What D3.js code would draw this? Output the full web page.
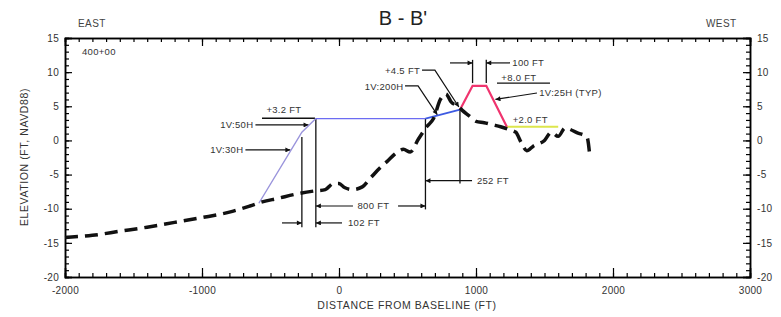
<!DOCTYPE html>
<html>
<head>
<meta charset="utf-8">
<script src="https://cdn.jsdelivr.net/npm/d3@7"></script>
<style>
  body { margin: 0; background: #fff; }
  svg { font-family: "Liberation Sans", Arial, sans-serif; }
  .tick text { fill: #333; font-size: 10px; letter-spacing: 0.3px; }
  .ann { fill: #333; font-size: 9.5px; letter-spacing: 0.3px; }
</style>
</head>
<body>
<svg id="chart" width="781" height="317"></svg>
<script>
// axis ticks
const xMajor = [-2000, -1000, 0, 1000, 2000, 3000];
const yMajor = [-20, -15, -10, -5, 0, 5, 10, 15];

// existing ground profile [distance, elevation]
const ground = [
  [-2000, -14.2], [-1800, -13.9], [-1600, -13.3], [-1400, -12.7], [-1200, -12.0],
  [-1000, -11.3], [-800, -10.5], [-650, -9.6], [-560, -9.0], [-450, -8.5],
  [-300, -7.8], [-180, -7.4], [-100, -7.2], [-40, -6.3], [0, -6.3], [40, -6.9],
  [100, -7.2], [170, -6.8], [230, -5.5], [300, -4.0], [350, -3.1], [420, -1.8],
  [470, -1.3], [520, -1.7], [580, 0.2], [640, 2.0], [690, 3.2], [740, 6.0],
  [780, 6.8], [820, 5.6], [870, 5.0], [900, 4.4], [950, 3.6], [1000, 2.8],
  [1060, 2.6], [1120, 2.3], [1180, 2.0], [1240, 1.6], [1290, 1.2], [1330, -0.3],
  [1370, -1.5], [1420, -0.8], [1500, 0.0], [1550, 1.2], [1600, 0.6], [1650, 1.8],
  [1740, 1.1], [1810, 0.5], [1830, -2.1]
];

// design profile pieces
const slopeBlue = [[-585, -9.2], [-271, 1.2], [-169, 3.2]];
const crestBlue = [[-169, 3.2], [631, 3.2]];
const rampBlue = [[631, 3.2], [883, 4.5]];
const dikeRed = [[883, 4.5], [975, 8.0], [1075, 8.0], [1225, 2.0]];
const benchYellow = [[1225, 2.0], [1600, 2.0]];

// annotation geometry in chart units
const extLines = [
  [[-271, 0.5], [-271, -12.7]], [[-169, 3.2], [-169, -12.7]],
  [[631, 3.2], [631, -10.1]], [[883, 4.5], [883, -6.3]],
  [[975, 11.8], [975, 8.4]], [[1075, 11.8], [1075, 8.4]],
  [[-562, 3.25], [-175, 3.25]], [[1153, 8.4], [1540, 8.4]]
];
const arrows = [
  [[-416, -12.08], [-271, -12.08]], [[22, -12.08], [-169, -12.08]],
  [[102, -9.6], [-169, -9.6]], [[431, -9.6], [631, -9.6]],
  [[971, -5.9], [631, -5.9]],
  [[810, 11.35], [975, 11.35]], [[1248, 11.35], [1075, 11.35]],
  [[-610, 2.27], [-222, 2.27]], [[-683, -1.39], [-355, -1.39]],
  [[606, 10.3], [700, 10.3], [875, 4.9]],
  [[482, 8.0], [577, 8.0], [718, 3.75]],
  [[1445, 6.95], [1142, 6.0]]
];
const labels = [
  ["400+00", -1876, 12.5, "start"],
  ["+3.2 FT", -530, 3.95, "start"],
  ["1V:50H", -625, 1.75, "end"],
  ["1V:30H", -698, -1.9, "end"],
  ["102 FT", 66, -12.55, "start"],
  ["800 FT", 135, -10.05, "start"],
  ["252 FT", 1007, -6.4, "start"],
  ["+4.5 FT", 592, 9.8, "end"],
  ["1V:200H", 470, 7.45, "end"],
  ["100 FT", 1265, 10.85, "start"],
  ["+8.0 FT", 1185, 8.75, "start"],
  ["1V:25H (TYP)", 1462, 6.45, "start"],
  ["+2.0 FT", 1268, 2.5, "start"]
];

const svg = d3.select("#chart");
const x = d3.scaleLinear([-2000, 3000], [65, 750]);
const y = d3.scaleLinear([-20, 15], [277, 38]);
const line = d3.line(d => x(d[0]), d => y(d[1]));

svg.append("defs").append("marker")
  .attr("id", "arr")
  .attr("viewBox", "0 0 10 10")
  .attr("refX", 10).attr("refY", 5)
  .attr("markerWidth", 7).attr("markerHeight", 5)
  .attr("markerUnits", "userSpaceOnUse")
  .attr("orient", "auto")
  .append("path").attr("d", "M0,0L10,5L0,10z").attr("fill", "#111");

// axes, ticks pointing inward
function axis(gen, tr, values, size, fmt, pad) {
  const g = svg.append("g").attr("transform", tr)
    .call(gen.tickValues(values).tickSize(-size).tickPadding(pad).tickFormat(fmt));
  g.select(".domain").attr("stroke-width", 1.5);
  g.selectAll(".tick line").attr("stroke-width", 1.2);
  return g;
}
const none = () => "";
const b = y.range()[0], t = y.range()[1], l = x.range()[0], r = x.range()[1];
axis(d3.axisBottom(x), `translate(0,${b})`, d3.range(-2000, 3001, 100), 4, none, 0);
axis(d3.axisBottom(x), `translate(0,${b})`, xMajor, 9, d3.format(""), 10);
axis(d3.axisTop(x), `translate(0,${t})`, d3.range(-2000, 3001, 100), 4, none, 0);
axis(d3.axisTop(x), `translate(0,${t})`, xMajor, 8, none, 0);
axis(d3.axisLeft(y), `translate(${l},0)`, d3.range(-20, 16, 1), 4, none, 0);
axis(d3.axisLeft(y), `translate(${l},0)`, yMajor, 7, d3.format(""), 6);
axis(d3.axisRight(y), `translate(${r},0)`, d3.range(-20, 16, 1), 4, none, 0);
axis(d3.axisRight(y), `translate(${r},0)`, yMajor, 7, d3.format(""), 7);
svg.selectAll(".tick text").text(function() { return this.textContent.replace("−", "-"); });

// titles
svg.append("text").attr("x", 403).attr("y", 25).attr("text-anchor", "middle")
  .attr("font-size", 20).attr("fill", "#222").text("B - B'");
svg.append("text").attr("x", l + 13).attr("y", 27).attr("font-size", 10)
  .attr("letter-spacing", 0.4).attr("fill", "#444").text("EAST");
svg.append("text").attr("x", r - 44).attr("y", 27).attr("font-size", 10)
  .attr("letter-spacing", 0.4).attr("fill", "#444").text("WEST");
svg.append("text").attr("x", 407).attr("y", 309).attr("text-anchor", "middle")
  .attr("font-size", 10.5).attr("letter-spacing", 0.6).attr("fill", "#333")
  .text("DISTANCE FROM BASELINE (FT)");
svg.append("text").attr("transform", `translate(28,157) rotate(-90)`).attr("text-anchor", "middle")
  .attr("font-size", 10.5).attr("letter-spacing", 0.6).attr("fill", "#333")
  .text("ELEVATION (FT, NAVD88)");

// annotation lines
svg.append("g").selectAll("path").data(extLines).join("path")
  .attr("d", line).attr("fill", "none").attr("stroke", "#111").attr("stroke-width", 1.3);
svg.append("g").selectAll("path").data(arrows).join("path")
  .attr("d", line).attr("fill", "none").attr("stroke", "#111").attr("stroke-width", 1.2)
  .attr("marker-end", "url(#arr)");

// design profile
const design = [
  [slopeBlue, "#9a94dc", 1.4], [crestBlue, "#6c6cf2", 1.4], [rampBlue, "#3d5ae2", 1.8],
  [benchYellow, "#dde64c", 2.2], [dikeRed, "#f0346e", 2.2]
];
svg.append("g").selectAll("path").data(design).join("path")
  .attr("d", d => line(d[0])).attr("fill", "none")
  .attr("stroke", d => d[1]).attr("stroke-width", d => d[2]);

// existing ground
svg.append("path").datum(ground).attr("d", line.curve(d3.curveMonotoneX)).attr("fill", "none")
  .attr("stroke", "#111").attr("stroke-width", 3.5).attr("stroke-dasharray", "13,7");

svg.append("g").selectAll("text").data(labels).join("text")
  .attr("class", "ann")
  .attr("x", d => x(d[1])).attr("y", d => y(d[2]))
  .attr("text-anchor", d => d[3]).text(d => d[0]);
</script>
</body>
</html>
